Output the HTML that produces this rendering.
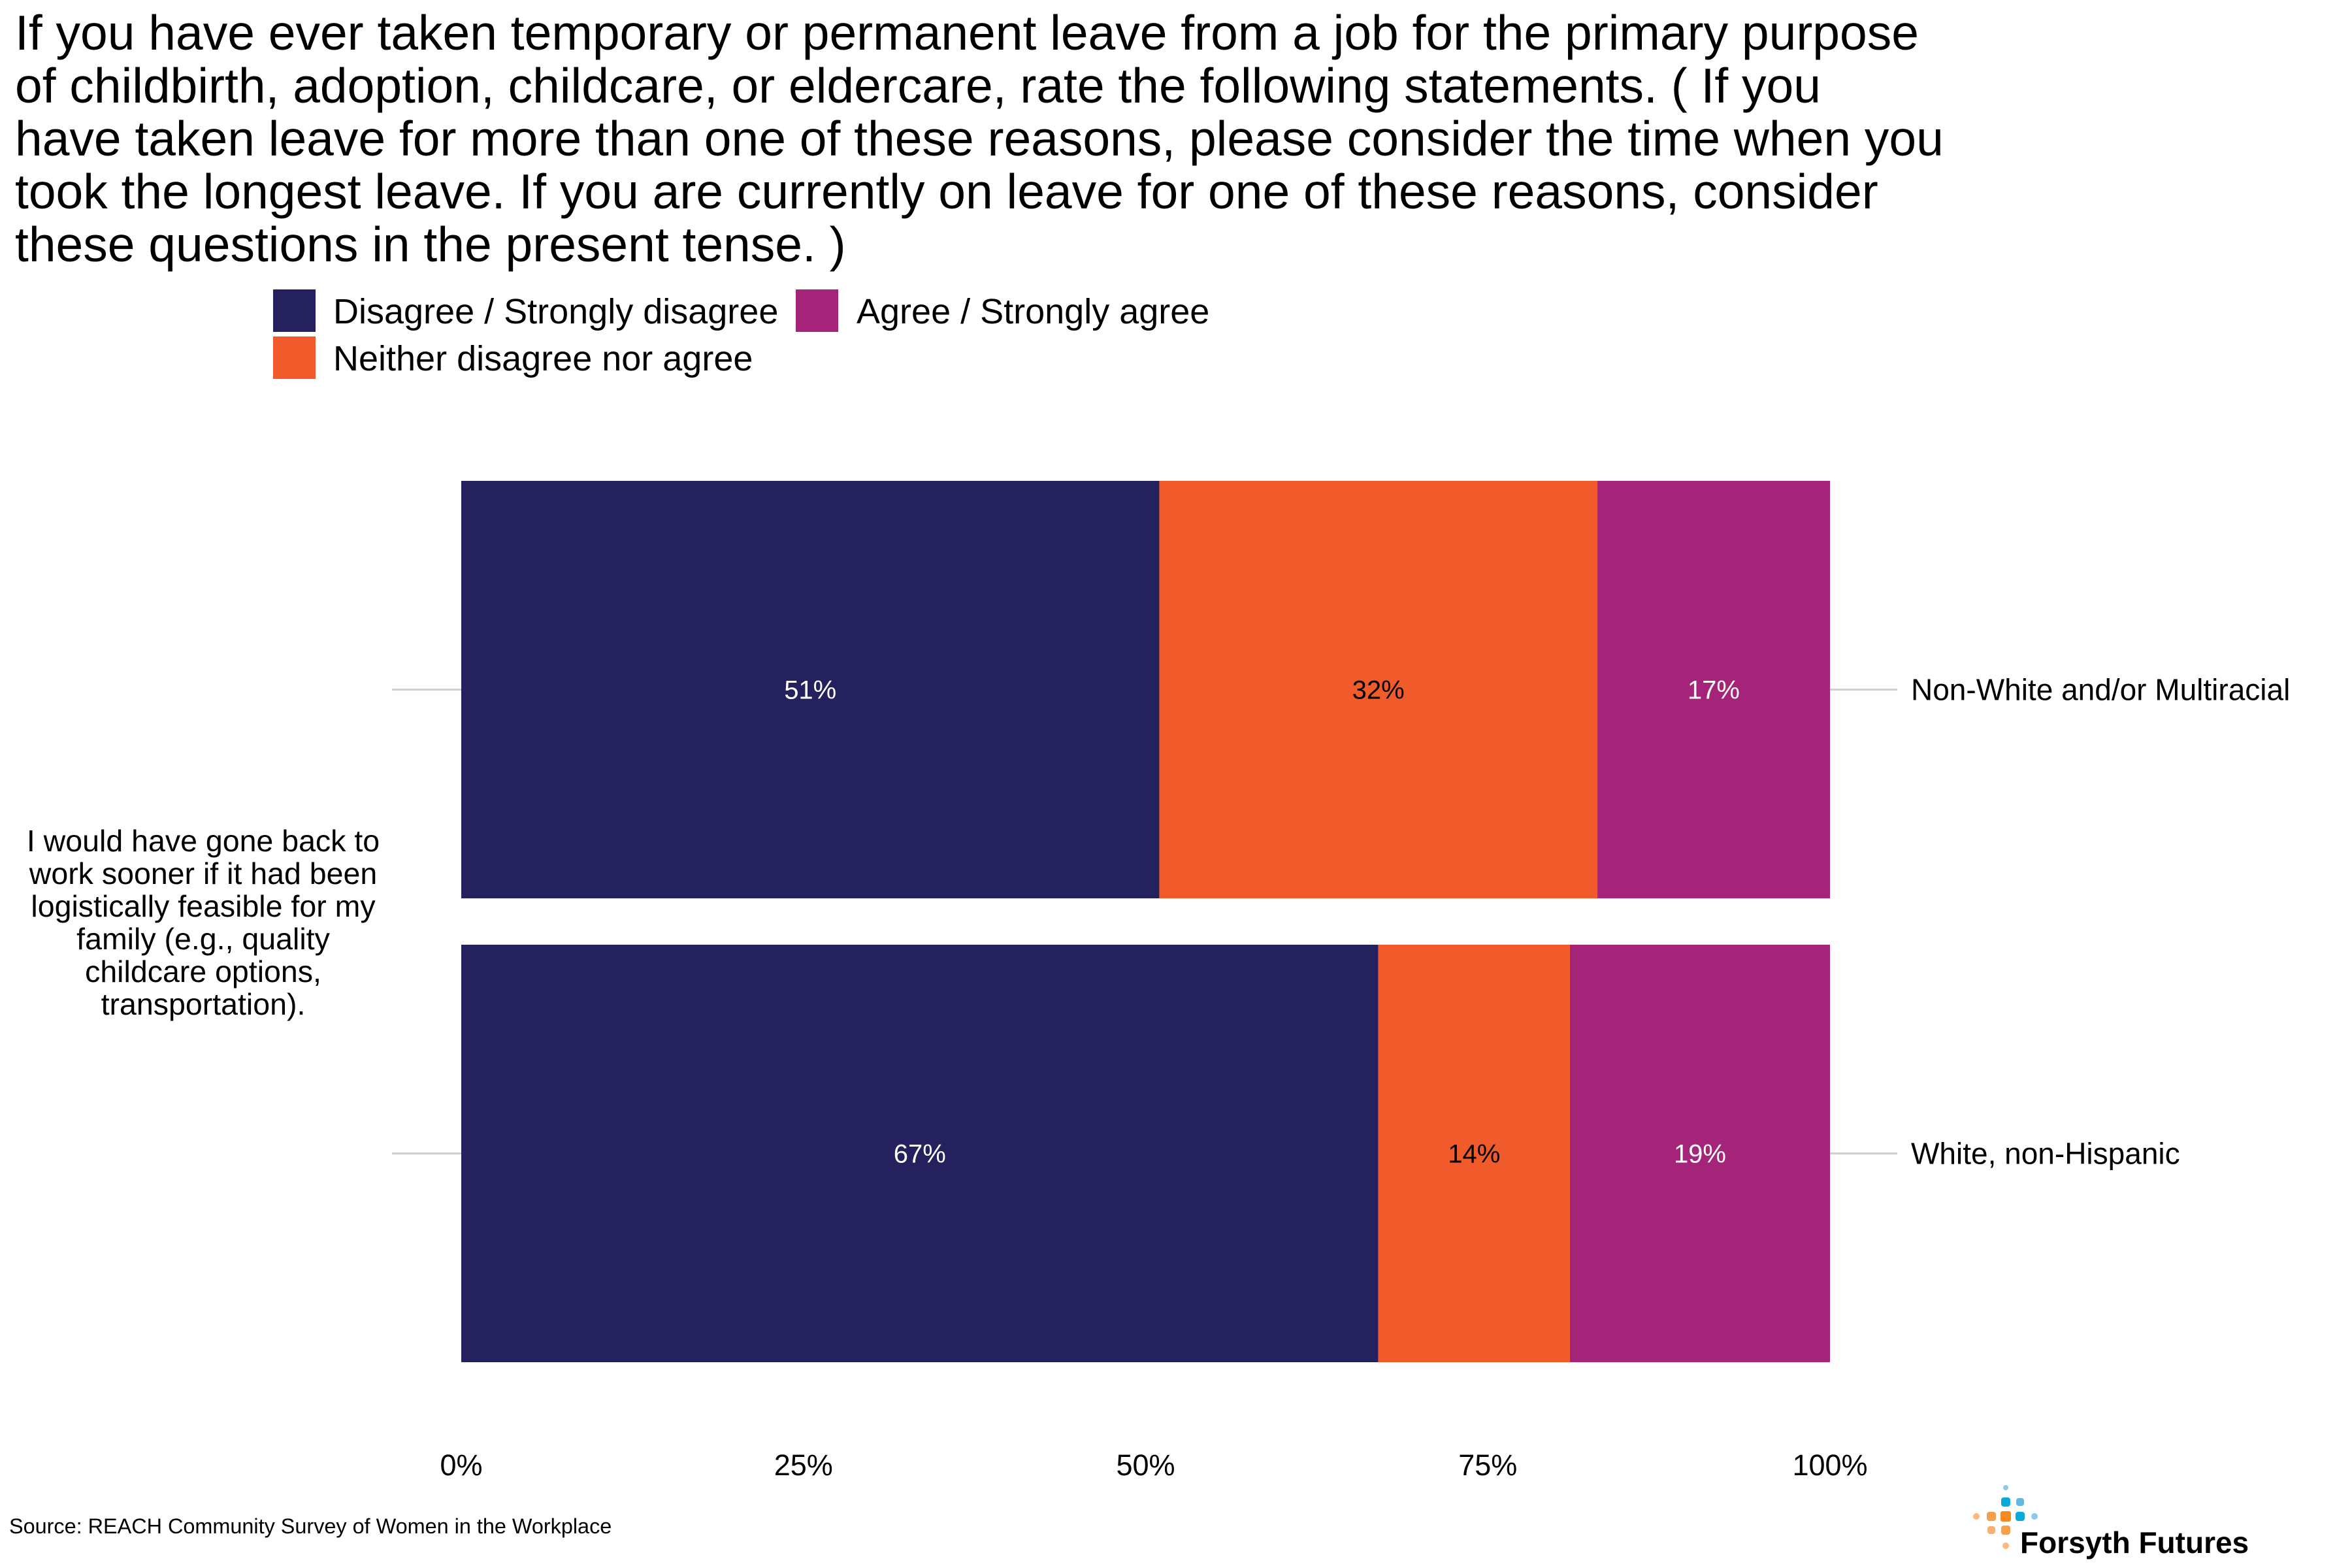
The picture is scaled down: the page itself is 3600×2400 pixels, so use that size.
<!DOCTYPE html>
<html><head><meta charset="utf-8"><style>
html,body{margin:0;padding:0;background:#fff;}
svg{display:block;font-family:"Liberation Sans",Arial,sans-serif;}
</style></head><body>
<svg id="chart" width="3600" height="2400" viewBox="0 0 3600 2400" xmlns="http://www.w3.org/2000/svg">
<rect width="3600" height="2400" fill="#fff"/>
<g font-size="75" fill="#000">
<text x="23" y="76">If you have ever taken temporary or permanent leave from a job for the primary purpose</text>
<text x="23" y="157">of childbirth, adoption, childcare, or eldercare, rate the following statements. ( If you</text>
<text x="23" y="238">have taken leave for more than one of these reasons, please consider the time when you</text>
<text x="23" y="319">took the longest leave. If you are currently on leave for one of these reasons, consider</text>
<text x="23" y="400">these questions in the present tense. )</text>
</g>
<g font-size="54" fill="#000">
<rect x="418" y="443" width="65" height="65" fill="#25215e"/>
<text x="510" y="495">Disagree / Strongly disagree</text>
<rect x="1218" y="443" width="65" height="65" fill="#a6237a"/>
<text x="1311" y="495">Agree / Strongly agree</text>
<rect x="418" y="515" width="65" height="65" fill="#f15a2b"/>
<text x="510" y="567">Neither disagree nor agree</text>
</g>
<g id="plot"></g>
<g font-size="46.5" fill="#000" text-anchor="middle">
<text x="311" y="1303">I would have gone back to</text>
<text x="311" y="1353">work sooner if it had been</text>
<text x="311" y="1403">logistically feasible for my</text>
<text x="311" y="1453">family (e.g., quality</text>
<text x="311" y="1503">childcare options,</text>
<text x="311" y="1553">transportation).</text>
</g>
<text x="14" y="2347" font-size="32.4" fill="#000">Source: REACH Community Survey of Women in the Workplace</text>
<g>
<circle cx="3070" cy="2277" r="4" fill="#8ccbe8"/>
<rect x="3063" y="2292" width="14" height="14" rx="4" fill="#0aa9dc"/>
<rect x="3086" y="2293" width="12" height="12" rx="4" fill="#62b8e2"/>
<circle cx="3025" cy="2321" r="5" fill="#fbb880"/>
<rect x="3041" y="2314" width="14" height="14" rx="4" fill="#f7a04b"/>
<rect x="3062" y="2313" width="16" height="16" rx="3" fill="#f68a22"/>
<rect x="3085" y="2314" width="14" height="14" rx="4" fill="#0aa9dc"/>
<circle cx="3114" cy="2321" r="5" fill="#8ccbe8"/>
<rect x="3042" y="2336" width="12" height="12" rx="4" fill="#fbb06f"/>
<rect x="3063" y="2335" width="14" height="14" rx="4" fill="#f7a04b"/>
<circle cx="3070" cy="2366" r="5" fill="#fbb880"/>
<text x="3092" y="2377" font-size="46" font-weight="bold" fill="#000">Forsyth Futures</text>
</g>
</svg>
<script>
const groups = ["Non-White and/or Multiracial", "White, non-Hispanic"];
const disagree = [51, 67];
const neither = [32, 14];
const agree = [17, 19];
const tickValues = [0, 25, 50, 75, 100];
const tickLabels = ["0%", "25%", "50%", "75%", "100%"];

const NS = "http://www.w3.org/2000/svg";
const plot = document.getElementById("plot");
const x0 = 706, x1 = 2801;
function xScale(v){ return x0 + (x1 - x0) * v / 100; }
const bandTop = 736, bandStep = 710, barH = 639;
function yScale(i){ return bandTop + i * bandStep; }
function mk(tag, attrs){ const e = document.createElementNS(NS, tag); for (const k in attrs) e.setAttribute(k, attrs[k]); return e; }

const series = [
  {vals: disagree, color: "#25215e", text: "#fff", key: "disagree"},
  {vals: neither, color: "#f15a2b", text: "#000", key: "neither"},
  {vals: agree, color: "#a6237a", text: "#fff", key: "agree"}
];

groups.forEach((g, i) => {
  const y = yScale(i), cy = y + barH / 2;
  const lt = mk("line", {x1: 600, x2: x0, y1: cy, y2: cy, stroke: "#d0d0d0", "stroke-width": 3});
  
  
  plot.appendChild(lt);
  const rt = mk("line", {x1: x1, x2: 2904, y1: cy, y2: cy, stroke: "#d0d0d0", "stroke-width": 3});
  
  
  plot.appendChild(rt);
  let acc = 0;
  series.forEach(s => {
    const v = s.vals[i];
    const r = mk("rect", {x: xScale(acc), y: y, width: xScale(acc + v) - xScale(acc), height: barH, fill: s.color});
    
    
    plot.appendChild(r);
    const t = mk("text", {x: xScale(acc + v / 2), y: cy + 14, "text-anchor": "middle", "font-size": 40, fill: s.text});
    t.textContent = v + "%";
    
    
    plot.appendChild(t);
    acc += v;
  });
  const gl = mk("text", {x: 2925, y: cy + 16, "font-size": 46, fill: "#000"});
  gl.textContent = g;
  
  
  plot.appendChild(gl);
});

tickValues.forEach((v, i) => {
  const t = mk("text", {x: xScale(v), y: 2258, "text-anchor": "middle", "font-size": 45, fill: "#000"});
  t.textContent = tickLabels[i];
  
  
  plot.appendChild(t);
});
</script>
</body></html>
